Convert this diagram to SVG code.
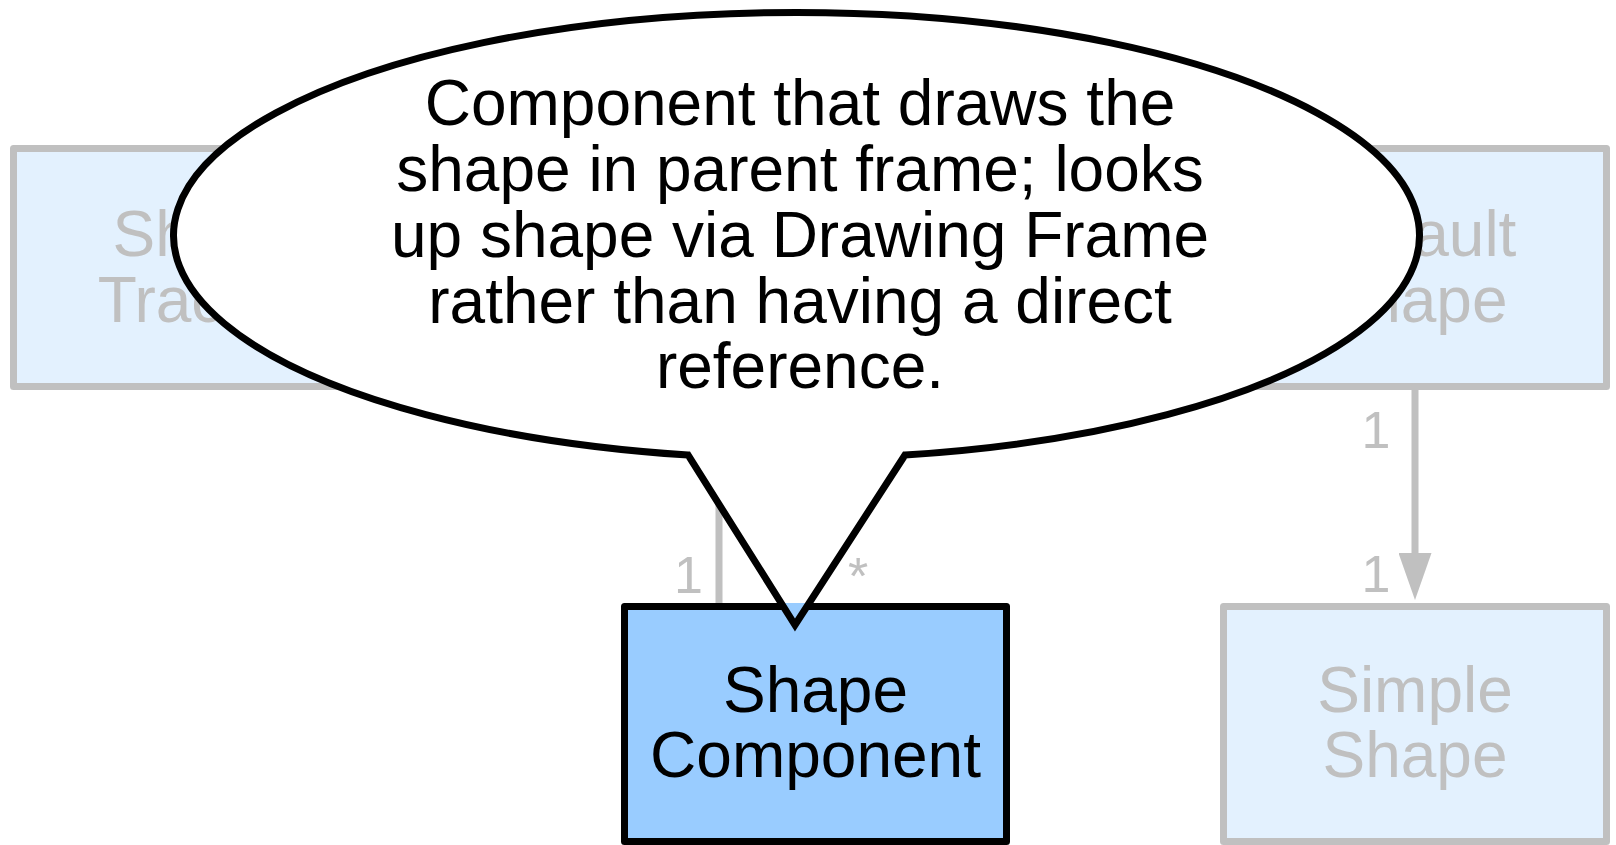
<svg xmlns="http://www.w3.org/2000/svg" width="1616" height="845" viewBox="0 0 1616 845">
<style>
.box{fill:#e3f1fe;stroke:#c0c0c0;stroke-width:7;stroke-linejoin:round}
.sel{fill:#99ccff;stroke:#000;stroke-width:7;stroke-linejoin:round}
.t{font-family:"Liberation Sans",Arial,sans-serif;font-size:64px;text-anchor:middle}
.g{fill:#c0c0c0}
.k{fill:#000}
.lbl{font-family:"Liberation Sans",Arial,sans-serif;font-size:52px;fill:#c0c0c0;text-anchor:middle}
.edge{fill:none;stroke:#c0c0c0;stroke-width:7}
</style>
<defs>
<marker id="arr" viewBox="0 0 47 33" refX="0" refY="16.5" markerWidth="47" markerHeight="33" markerUnits="userSpaceOnUse" orient="auto">
<path d="M0,0 L47,16.5 L0,33 Z" fill="#c0c0c0"/>
</marker>
</defs>
<rect width="1616" height="845" fill="#fff"/>
<g id="shape-tracker">
<rect class="box" x="13.5" y="148.5" width="383" height="238"/>
<text class="t g" x="205" y="256">Shape</text>
<text class="t g" x="205" y="322">Tracker</text>
</g>
<g id="default-shape">
<rect class="box" x="1223.5" y="148.5" width="383" height="238"/>
<text class="t g" x="1415" y="256">Default</text>
<text class="t g" x="1415" y="322">Shape</text>
</g>
<g id="simple-shape">
<rect class="box" x="1223.5" y="606.5" width="383" height="235"/>
<text class="t g" x="1415" y="712">Simple</text>
<text class="t g" x="1415" y="777">Shape</text>
</g>
<g id="shape-component">
<rect class="sel" x="624.5" y="606.5" width="382" height="235"/>
<text class="t k" x="815.5" y="712">Shape</text>
<text class="t k" x="815.5" y="777">Component</text>
</g>
<g id="connectors">
<line class="edge" x1="719" y1="470" x2="719" y2="603"/>
<path class="edge" d="M1415,390 L1415,553" marker-end="url(#arr)"/>
<text class="lbl" x="688.5" y="593">1</text>
<text class="lbl" x="858" y="594">*</text>
<text class="lbl" x="1376" y="448">1</text>
<text class="lbl" x="1376" y="592">1</text>
</g>
<g id="callout">
<path d="M688,455 A623,223 0 1 1 905,455 L808.7,603 L781.7,603 Z" fill="#fff"/>
<path d="M781.7,603 L808.7,603 L795,625 Z" fill="#99ccff"/>
<path d="M688,455 A623,223 0 1 1 905,455 L795,625 Z" fill="none" stroke="#000" stroke-width="7"/>
<text class="t k" x="800" y="125">Component that draws the</text>
<text class="t k" x="800" y="191">shape in parent frame; looks</text>
<text class="t k" x="800" y="257">up shape via Drawing Frame</text>
<text class="t k" x="800" y="323">rather than having a direct</text>
<text class="t k" x="800" y="388">reference.</text>
</g>
</svg>
